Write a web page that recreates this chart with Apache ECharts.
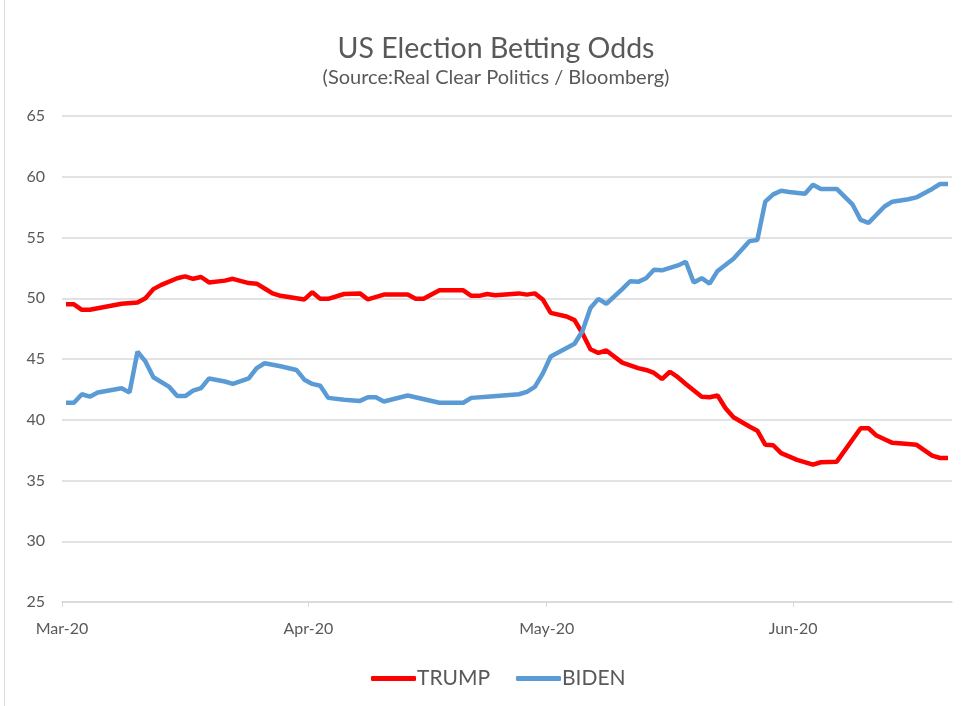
<!DOCTYPE html>
<html>
<head>
<meta charset="utf-8">
<script src="https://cdn.jsdelivr.net/npm/echarts@6/dist/echarts.min.js"></script>
<style>
  html, body { margin: 0; padding: 0; background: #fff; }
  #chart { width: 963px; height: 706px; }
</style>
</head>
<body>
<div id="chart"></div>
<script>
// values (points are placed mid-day, like excel does)
const trumpDates = ['2020-03-01','2020-03-02','2020-03-03','2020-03-04','2020-03-06','2020-03-08','2020-03-10','2020-03-11','2020-03-12','2020-03-13',
  '2020-03-15','2020-03-16','2020-03-17','2020-03-18','2020-03-19','2020-03-21','2020-03-22','2020-03-24','2020-03-25','2020-03-26',
  '2020-03-27','2020-03-28','2020-03-31','2020-04-01','2020-04-02','2020-04-03','2020-04-05','2020-04-07','2020-04-08','2020-04-10',
  '2020-04-13','2020-04-14','2020-04-15','2020-04-17','2020-04-20','2020-04-21','2020-04-22','2020-04-23','2020-04-24','2020-04-27',
  '2020-04-28','2020-04-29','2020-04-30','2020-05-01','2020-05-03','2020-05-04','2020-05-05','2020-05-06','2020-05-07','2020-05-08',
  '2020-05-10','2020-05-12','2020-05-13','2020-05-14','2020-05-15','2020-05-16','2020-05-17','2020-05-18','2020-05-20','2020-05-21',
  '2020-05-22','2020-05-23','2020-05-24','2020-05-26','2020-05-27','2020-05-28','2020-05-29','2020-05-30','2020-06-01','2020-06-03',
  '2020-06-04','2020-06-06','2020-06-09','2020-06-10','2020-06-11','2020-06-12','2020-06-13','2020-06-15','2020-06-16','2020-06-17',
  '2020-06-18','2020-06-19','2020-06-20'];
const trumpValues = [49.5,49.5,49.05,49.05,49.3,49.55,49.65,50.0,50.75,51.1,
  51.65,51.8,51.6,51.75,51.3,51.45,51.6,51.25,51.2,50.8,
  50.4,50.2,49.9,50.5,49.95,49.95,50.35,50.4,49.9,50.3,
  50.3,49.95,49.95,50.65,50.65,50.2,50.2,50.35,50.25,50.4,
  50.3,50.4,49.9,48.8,48.5,48.2,47.1,45.8,45.5,45.7,
  44.7,44.25,44.1,43.85,43.35,43.95,43.5,42.95,41.9,41.85,
  42.0,40.95,40.2,39.45,39.1,37.95,37.9,37.25,36.7,36.3,
  36.5,36.55,39.3,39.3,38.7,38.4,38.1,38.0,37.95,37.5,
  37.05,36.85,36.85];

const bidenDates = ['2020-03-01','2020-03-02','2020-03-03','2020-03-04','2020-03-05','2020-03-08','2020-03-09','2020-03-10','2020-03-11','2020-03-12',
  '2020-03-14','2020-03-15','2020-03-16','2020-03-17','2020-03-18','2020-03-19','2020-03-21','2020-03-22','2020-03-24','2020-03-25',
  '2020-03-26','2020-03-28','2020-03-30','2020-03-31','2020-04-01','2020-04-02','2020-04-03','2020-04-05','2020-04-07','2020-04-08',
  '2020-04-09','2020-04-10','2020-04-13','2020-04-17','2020-04-20','2020-04-21','2020-04-23','2020-04-27','2020-04-28','2020-04-29',
  '2020-04-30','2020-05-01','2020-05-04','2020-05-05','2020-05-06','2020-05-07','2020-05-08','2020-05-10','2020-05-11','2020-05-12',
  '2020-05-13','2020-05-14','2020-05-15','2020-05-17','2020-05-18','2020-05-19','2020-05-20','2020-05-21','2020-05-22','2020-05-24',
  '2020-05-26','2020-05-27','2020-05-28','2020-05-29','2020-05-30','2020-05-31','2020-06-02','2020-06-03','2020-06-04','2020-06-06',
  '2020-06-08','2020-06-09','2020-06-10','2020-06-12','2020-06-13','2020-06-15','2020-06-16','2020-06-17','2020-06-18','2020-06-19',
  '2020-06-20'];
const bidenValues = [41.4,41.4,42.1,41.9,42.25,42.6,42.25,45.6,44.8,43.5,
  42.7,41.95,41.95,42.4,42.6,43.4,43.15,42.95,43.4,44.25,
  44.65,44.4,44.1,43.3,42.95,42.8,41.8,41.65,41.55,41.85,
  41.85,41.5,42.0,41.4,41.4,41.8,41.9,42.1,42.3,42.7,
  43.8,45.2,46.25,47.3,49.2,49.95,49.55,50.75,51.4,51.35,
  51.65,52.35,52.3,52.7,53.0,51.3,51.65,51.2,52.25,53.25,
  54.7,54.8,57.95,58.55,58.85,58.75,58.6,59.35,59.0,59.0,
  57.7,56.45,56.2,57.55,57.95,58.15,58.3,58.65,59.0,59.4,
  59.4];

const monthTicks = ['2020-03-01','2020-04-01','2020-05-01','2020-06-01'];
const monthLabels = ['Mar-20','Apr-20','May-20','Jun-20'];
const axisStart = '2020-03-01';
const axisEnd = '2020-06-21';

// x axis counts days from axisStart
function day(d) {
  return Math.round((Date.parse(d) - Date.parse(axisStart)) / 86400000);
}
function pairs(dates, vals) {
  return dates.map((d, i) => [day(d) + 0.5, vals[i]]);
}
const tickValues = monthTicks.map(day);

const chart = echarts.init(document.getElementById('chart'));
const font = 'Lato, "Open Sans", sans-serif';

chart.setOption({
  animation: false,
  title: {
    text: 'US Election Betting Odds',
    subtext: '(Source:Real Clear Politics / Bloomberg)',
    left: 491,
    textAlign: 'center',
    top: 29,
    itemGap: 5,
    textStyle: { fontFamily: font, fontSize: 28.5, fontWeight: 'normal', color: '#595959' },
    subtextStyle: { fontFamily: font, fontSize: 20, color: '#595959' }
  },
  legend: {
    bottom: 12,
    left: 366,
    itemWidth: 45,
    itemHeight: 5,
    itemGap: 26,
    icon: 'roundRect',
    textStyle: { fontFamily: font, fontSize: 21, color: '#595959', padding: [0, 0, 0, -4] },
    data: ['TRUMP', 'BIDEN']
  },
  grid: { left: 62, right: 11, top: 116, bottom: 104 },
  xAxis: {
    type: 'value',
    min: 0,
    max: day(axisEnd),
    axisLine: { lineStyle: { color: '#d9d9d9', width: 1.5 } },
    axisTick: { show: true, customValues: tickValues, length: 5, lineStyle: { color: '#d9d9d9' } },
    axisLabel: {
      customValues: tickValues,
      margin: 19,
      fontFamily: font,
      fontSize: 16,
      color: '#595959',
      formatter: (v) => monthLabels[tickValues.indexOf(v)] || ''
    },
    splitLine: { show: false }
  },
  yAxis: {
    type: 'value',
    min: 25,
    max: 65,
    interval: 5,
    axisLine: { show: false },
    axisTick: { show: false },
    axisLabel: { fontFamily: font, fontSize: 16, color: '#595959', margin: 17 },
    splitLine: { lineStyle: { color: '#d9d9d9', width: 1.5 } }
  },
  series: [
    {
      name: 'TRUMP',
      type: 'line',
      showSymbol: false,
      data: pairs(trumpDates, trumpValues),
      color: '#ff0000',
      lineStyle: { width: 4.5, color: '#ff0000' }
    },
    {
      name: 'BIDEN',
      type: 'line',
      showSymbol: false,
      data: pairs(bidenDates, bidenValues),
      color: '#5b9bd5',
      lineStyle: { width: 4.5, color: '#5b9bd5' }
    }
  ],
  graphic: [
    { type: 'rect', shape: { x: 4.5, y: -5, width: 1000, height: 1000 }, style: { fill: 'none', stroke: '#d9d9d9', lineWidth: 1 } }
  ]
});
</script>
</body>
</html>
